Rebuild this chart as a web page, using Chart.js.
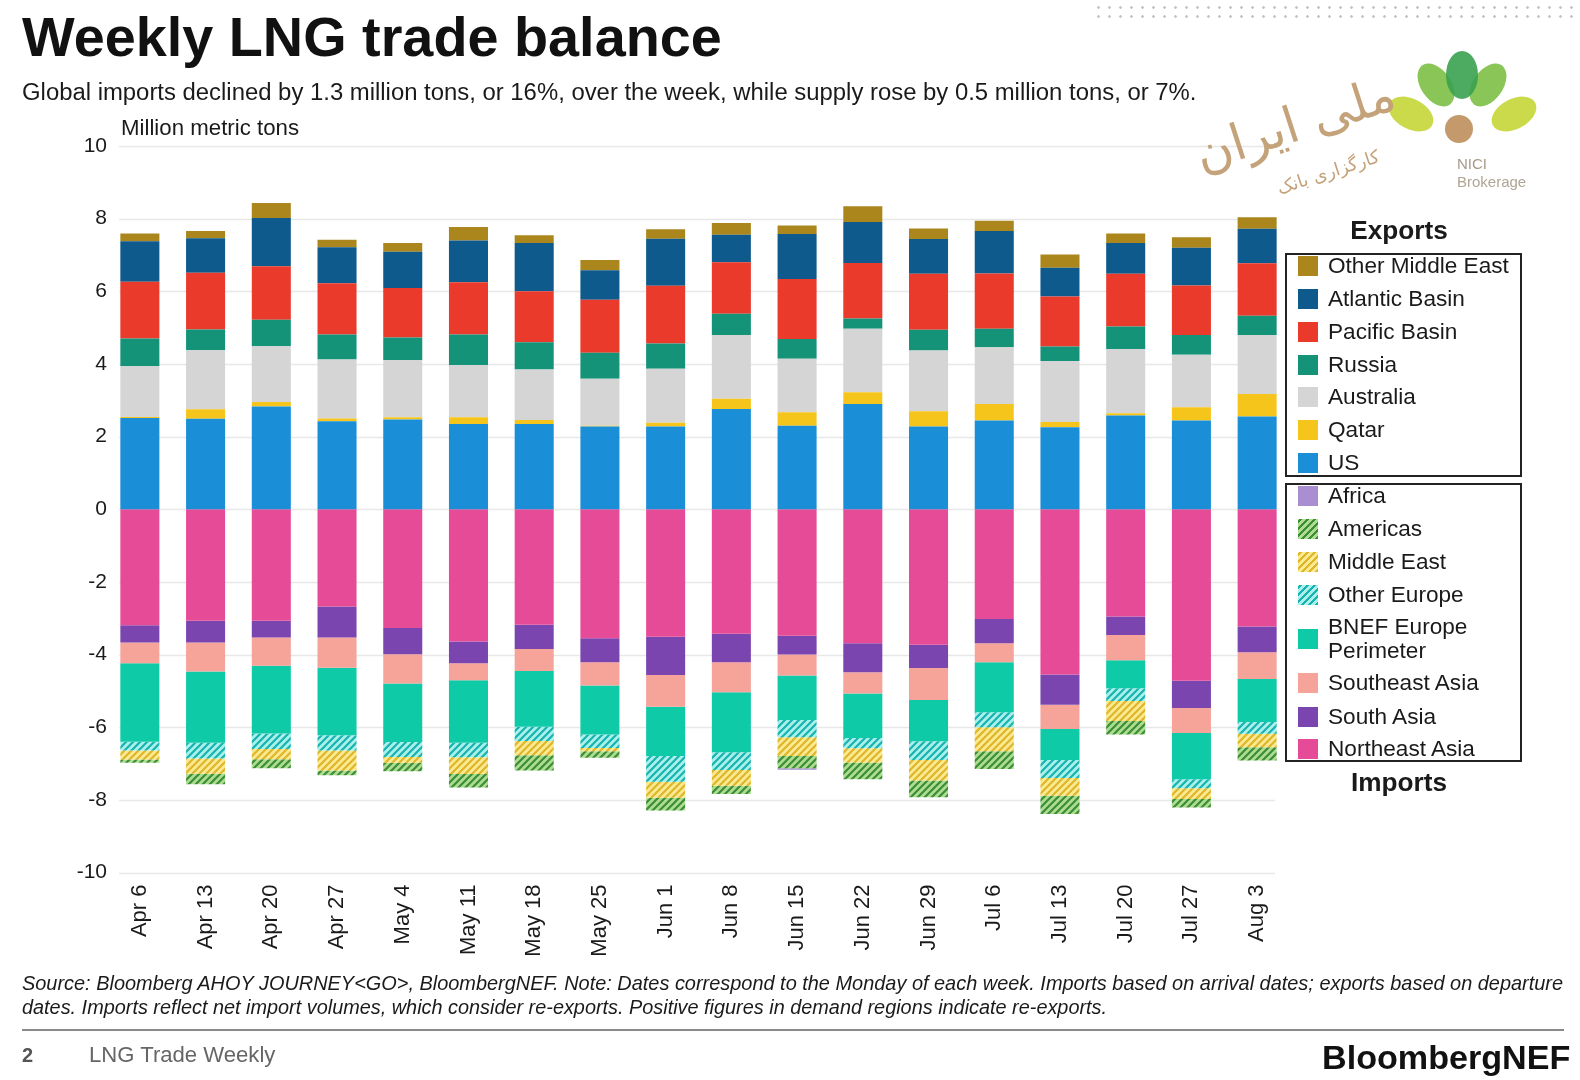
<!DOCTYPE html>
<html>
<head>
<meta charset="utf-8">
<script src="https://cdn.jsdelivr.net/npm/chart.js@4.4.1/dist/chart.umd.min.js"></script>
<style>
  body { margin: 0; background: #fff; font-family: "Liberation Sans", Arial, sans-serif; color: #1a1a1a; }
  #page { position: relative; width: 1580px; height: 1080px; overflow: hidden; background: #fff; }
  .t { position: absolute; white-space: nowrap; }
  #c { position: absolute; left: 0; top: 0; }
  .box { position: absolute; left: 1285px; width: 237px; border: 2px solid #222; box-sizing: border-box; background: #fff; }
  .sw { position: absolute; left: 1298px; width: 20px; height: 20px; }
  .lt { position: absolute; left: 1328px; font-size: 22.6px; line-height: 22px; white-space: nowrap; color: #1a1a1a; }
  .dots { position: absolute; left: 1093px; top: 3px; width: 487px; height: 20px;
          background-image: radial-gradient(circle, #c4c4c4 1px, transparent 1.6px); background-size: 11px 9px; }
</style>
</head>
<body>
<div id="page">
  <canvas id="c" width="1580" height="1080"></canvas>

  <div class="dots"></div>
  <div class="t fit" data-w="700" style="left:22px;top:9px;font-size:55px;line-height:55px;font-weight:bold;color:#111">Weekly LNG trade balance</div>
  <div class="t fit" data-w="1175" style="left:22px;top:80px;font-size:23.5px;line-height:23.5px;color:#1a1a1a">Global imports declined by 1.3 million tons, or 16%, over the week, while supply rose by 0.5 million tons, or 7%.</div>
  <div class="t fit" data-w="178" style="left:121px;top:117px;font-size:22px;line-height:22px;color:#1a1a1a">Million metric tons</div>

  <!-- watermark logo -->
  <svg class="t" style="left:0;top:0" width="1580" height="220">
    <ellipse cx="1411" cy="114" rx="15" ry="24" transform="rotate(-62 1411 114)" fill="#c5d636" opacity="0.9"/>
    <ellipse cx="1514" cy="114" rx="15" ry="24" transform="rotate(62 1514 114)" fill="#c5d636" opacity="0.9"/>
    <ellipse cx="1436" cy="85" rx="15" ry="24" transform="rotate(-35 1436 85)" fill="#74bb3a" opacity="0.85"/>
    <ellipse cx="1488" cy="85" rx="15" ry="24" transform="rotate(35 1488 85)" fill="#74bb3a" opacity="0.85"/>
    <ellipse cx="1462" cy="75" rx="16" ry="24" fill="#3aa150" opacity="0.9"/>
    <circle cx="1459" cy="129" r="14" fill="#c49a6c"/>
    <text x="1457" y="169" font-size="15" fill="#a89a8a" font-family="Liberation Sans, Arial">NICI</text>
    <text x="1457" y="187" font-size="15" fill="#b0a494" font-family="Liberation Sans, Arial">Brokerage</text>
    <text x="1300" y="140" font-size="50" fill="#c4a27a" font-family="DejaVu Sans" text-anchor="middle" transform="rotate(-18 1300 140)">ملی ایران</text>
    <text x="1330" y="178" font-size="18" fill="#c4a27a" font-family="DejaVu Sans" text-anchor="middle" transform="rotate(-18 1330 178)">کارگزاری بانک</text>
  </svg>

  <!-- legend -->
  <div class="t" style="left:1399px;top:217px;font-size:26.2px;line-height:26px;font-weight:bold;transform:translateX(-50%)">Exports</div>
  <div class="box" style="top:253px;height:224px"></div>
  <div class="box" style="top:483px;height:279px"></div>
  <div class="t" style="left:1399px;top:769px;font-size:26.2px;line-height:26px;font-weight:bold;transform:translateX(-50%)">Imports</div>
  <div id="legend"></div>

  <!-- footer -->
  <div class="t fit" data-w="1542" style="left:22px;top:974px;font-size:19px;line-height:19px;font-style:italic;color:#1a1a1a">Source: Bloomberg AHOY JOURNEY&lt;GO&gt;, BloombergNEF. Note: Dates correspond to the Monday of each week. Imports based on arrival dates; exports based on departure</div>
  <div class="t fit" data-w="1086" style="left:22px;top:998px;font-size:19px;line-height:19px;font-style:italic;color:#1a1a1a">dates. Imports reflect net import volumes, which consider re-exports. Positive figures in demand regions indicate re-exports.</div>
  <div class="t" style="left:22px;top:1029px;width:1542px;height:2px;background:#8a8a8a"></div>
  <div class="t" style="left:22px;top:1045px;font-size:20px;line-height:20px;font-weight:bold;color:#555">2</div>
  <div class="t fit" data-w="186" style="left:89px;top:1044px;font-size:22px;line-height:22px;color:#666">LNG Trade Weekly</div>
  <div class="t fit" data-w="248" style="left:1322px;top:1040px;font-size:34px;line-height:34px;font-weight:bold;color:#111">BloombergNEF</div>
</div>

<script>
// weeks (Monday of each week)
const weeks = ['Apr 6', 'Apr 13', 'Apr 20', 'Apr 27', 'May 4', 'May 11', 'May 18', 'May 25', 'Jun 1',
  'Jun 8', 'Jun 15', 'Jun 22', 'Jun 29', 'Jul 6', 'Jul 13', 'Jul 20', 'Jul 27', 'Aug 3']

// exports, million metric tons
const us =        [2.51, 2.49, 2.83, 2.42, 2.47, 2.35, 2.35, 2.28, 2.28, 2.76, 2.30, 2.90, 2.28, 2.44, 2.26, 2.58, 2.44, 2.55]
const qatar =     [0.03, 0.26, 0.12, 0.08, 0.06, 0.18, 0.11, 0.02, 0.10, 0.28, 0.37, 0.32, 0.42, 0.46, 0.14, 0.06, 0.37, 0.62]
const australia = [1.40, 1.63, 1.54, 1.62, 1.58, 1.44, 1.39, 1.29, 1.49, 1.76, 1.47, 1.75, 1.67, 1.56, 1.68, 1.77, 1.44, 1.63]
const russia =    [0.76, 0.57, 0.73, 0.69, 0.62, 0.84, 0.75, 0.72, 0.69, 0.58, 0.55, 0.28, 0.57, 0.51, 0.40, 0.62, 0.55, 0.53]
const pacific =   [1.56, 1.56, 1.47, 1.41, 1.36, 1.44, 1.40, 1.46, 1.59, 1.42, 1.65, 1.53, 1.54, 1.52, 1.38, 1.45, 1.36, 1.44]
const atlantic =  [1.12, 0.95, 1.33, 0.99, 1.00, 1.15, 1.33, 0.81, 1.30, 0.76, 1.24, 1.13, 0.96, 1.17, 0.79, 0.85, 1.04, 0.95]
const otherME =   [0.21, 0.20, 0.41, 0.21, 0.24, 0.37, 0.21, 0.28, 0.26, 0.32, 0.23, 0.43, 0.29, 0.28, 0.36, 0.26, 0.29, 0.32]

// imports (negative), million metric tons
const neAsia =    [-3.19, -3.07, -3.07, -2.68, -3.27, -3.64, -3.18, -3.55, -3.51, -3.43, -3.48, -3.69, -3.73, -3.02, -4.55, -2.95, -4.72, -3.23]
const sAsia =     [-0.48, -0.60, -0.46, -0.85, -0.72, -0.60, -0.67, -0.66, -1.05, -0.78, -0.52, -0.80, -0.64, -0.67, -0.83, -0.51, -0.75, -0.71]
const seAsia =    [-0.57, -0.80, -0.78, -0.83, -0.81, -0.47, -0.60, -0.64, -0.88, -0.83, -0.58, -0.58, -0.88, -0.52, -0.67, -0.70, -0.69, -0.73]
const bnefEu =    [-2.16, -1.96, -1.86, -1.86, -1.61, -1.72, -1.54, -1.35, -1.35, -1.65, -1.22, -1.23, -1.14, -1.38, -0.85, -0.77, -1.27, -1.19]
const otherEu =   [-0.24, -0.43, -0.43, -0.42, -0.41, -0.40, -0.39, -0.37, -0.71, -0.49, -0.48, -0.28, -0.51, -0.41, -0.50, -0.35, -0.25, -0.32]
const middleE =   [-0.25, -0.42, -0.28, -0.55, -0.16, -0.46, -0.39, -0.09, -0.44, -0.43, -0.51, -0.39, -0.57, -0.66, -0.49, -0.55, -0.30, -0.37]
const americas =  [-0.09, -0.29, -0.25, -0.13, -0.23, -0.37, -0.42, -0.18, -0.35, -0.23, -0.34, -0.46, -0.46, -0.49, -0.50, -0.37, -0.23, -0.37]
const africa =    [0, 0, 0, 0, 0, 0, 0, 0, 0, 0, -0.04, 0, 0, 0, 0, 0, 0, 0]

// stretch a few text lines to the width they have in the picture
document.querySelectorAll('.fit').forEach(el => {
  const want = +el.dataset.w
  const fs = parseFloat(el.style.fontSize)
  el.style.fontSize = (fs * want / el.offsetWidth).toFixed(2) + 'px'
})

function hatch(bg, fg) {
  const c = document.createElement('canvas')
  c.width = c.height = 7
  const g = c.getContext('2d')
  g.fillStyle = bg
  g.fillRect(0, 0, 7, 7)
  g.strokeStyle = fg
  g.lineWidth = 2.2
  g.beginPath()
  g.moveTo(-1, 8); g.lineTo(8, -1)
  g.moveTo(-2, 2); g.lineTo(2, -2)
  g.moveTo(5, 9); g.lineTo(9, 5)
  g.stroke()
  return g.createPattern(c, 'repeat')
}

const hatchCols = {
  americas: ['#aedd8f', '#3c8d3a'],
  middleE: ['#fbea92', '#dfb62a'],
  otherEu: ['#a9f1ea', '#18b3b0']
}

const series = [
  { label: 'US', data: us, color: '#1a8fd8' },
  { label: 'Qatar', data: qatar, color: '#f6c51c' },
  { label: 'Australia', data: australia, color: '#d5d5d5' },
  { label: 'Russia', data: russia, color: '#149379' },
  { label: 'Pacific Basin', data: pacific, color: '#e93a2c' },
  { label: 'Atlantic Basin', data: atlantic, color: '#0e5a8d' },
  { label: 'Other Middle East', data: otherME, color: '#ab861c' },
  { label: 'Northeast Asia', data: neAsia, color: '#e64b98' },
  { label: 'South Asia', data: sAsia, color: '#7b45b0' },
  { label: 'Southeast Asia', data: seAsia, color: '#f6a39a' },
  { label: 'BNEF Europe Perimeter', data: bnefEu, color: '#0fcaa6' },
  { label: 'Other Europe', data: otherEu, hatch: hatchCols.otherEu },
  { label: 'Middle East', data: middleE, hatch: hatchCols.middleE },
  { label: 'Americas', data: americas, hatch: hatchCols.americas },
  { label: 'Africa', data: africa, color: '#a98fd2' }
]

// legend, built from the series list (row centre y in px)
const legendRows = [
  ['Other Middle East', 266], ['Atlantic Basin', 299], ['Pacific Basin', 331.5], ['Russia', 365],
  ['Australia', 397], ['Qatar', 430], ['US', 462.5],
  ['Africa', 496], ['Americas', 529], ['Middle East', 562], ['Other Europe', 594.5],
  ['BNEF Europe Perimeter', 639], ['Southeast Asia', 683], ['South Asia', 716.5], ['Northeast Asia', 749]
]
const leg = document.getElementById('legend')
legendRows.forEach(([name, cy]) => {
  const s = series.find(d => d.label === name)
  const sw = document.createElement('div')
  sw.className = 'sw'
  sw.style.top = (cy - 10) + 'px'
  sw.style.background = s.hatch
    ? `repeating-linear-gradient(-45deg, ${s.hatch[1]} 0 2.2px, ${s.hatch[0]} 2.2px 5px)`
    : s.color
  leg.appendChild(sw)
  const tx = document.createElement('div')
  tx.className = 'lt'
  if (name === 'BNEF Europe Perimeter') {
    tx.innerHTML = 'BNEF Europe<br>Perimeter'
    tx.style.lineHeight = '24px'
    tx.style.top = (cy - 24) + 'px'
  } else {
    tx.textContent = name
    tx.style.top = (cy - 11) + 'px'
  }
  leg.appendChild(tx)
})

const gridLines = {
  id: 'gridLines',
  beforeDatasetsDraw(chart) {
    const { ctx, scales: { y } } = chart
    ctx.save()
    ctx.strokeStyle = '#e8e8e8'
    ctx.lineWidth = 1.5
    y.ticks.forEach(t => {
      const py = Math.round(y.getPixelForValue(t.value)) + 0.5
      ctx.beginPath()
      ctx.moveTo(119, py)
      ctx.lineTo(1275, py)
      ctx.stroke()
    })
    ctx.restore()
  }
}

const font = { family: '"Liberation Sans", Arial, sans-serif' }

new Chart(document.getElementById('c'), {
  type: 'bar',
  data: {
    labels: weeks,
    datasets: series.map(s => ({
      label: s.label,
      data: s.data,
      backgroundColor: s.hatch ? hatch(s.hatch[0], s.hatch[1]) : s.color,
      borderWidth: 0,
      categoryPercentage: 0.594,
      barPercentage: 1
    }))
  },
  options: {
    responsive: false,
    animation: false,
    devicePixelRatio: 1,
    layout: { padding: { left: 0, right: 290, top: 146, bottom: 107.5 } },
    plugins: { legend: { display: false }, tooltip: { enabled: false } },
    scales: {
      x: {
        stacked: true,
        grid: { display: false, drawTicks: false },
        border: { display: false },
        ticks: { autoSkip: false, maxRotation: 90, minRotation: 90, padding: 12, color: '#1a1a1a', font: { ...font, size: 22 } },
        afterFit(s) { s.height = 100 }
      },
      y: {
        stacked: true,
        min: -10,
        max: 10,
        grid: { display: false, drawTicks: false },
        border: { display: false },
        ticks: { stepSize: 2, padding: 0, color: '#1a1a1a', font: { ...font, size: 21 } },
        afterFit(s) { s.width = 107 }
      }
    }
  },
  plugins: [gridLines]
})
</script>
</body>
</html>
